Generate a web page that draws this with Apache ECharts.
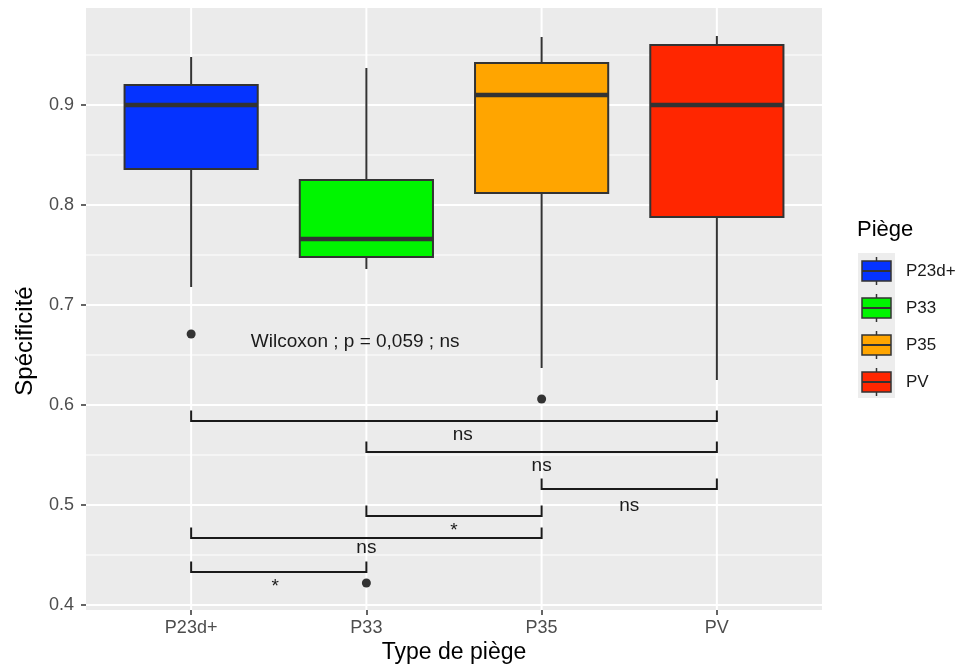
<!DOCTYPE html>
<html><head><meta charset="utf-8">
<script src="https://cdn.jsdelivr.net/npm/echarts@6/dist/echarts.min.js"></script>
<style>html,body{margin:0;padding:0;background:#fff}#c{width:962px;height:671px}</style>
</head><body><div id="c"></div><script>
// ---- data ----
const categories = ['P23d+', 'P33', 'P35', 'PV'];
const whiskerLow  = [0.718, 0.736, 0.637, 0.625];
const q1          = [0.836, 0.748, 0.812, 0.788];
const median      = [0.900, 0.766, 0.910, 0.900];
const q3          = [0.920, 0.825, 0.942, 0.960];
const whiskerHigh = [0.948, 0.937, 0.968, 0.969];
const outlierCategory = [0, 1, 2];
const outlierValue    = [0.671, 0.422, 0.606];
const yTickValues  = [0.4, 0.5, 0.6, 0.7, 0.8, 0.9];
const yMinorValues = [0.45, 0.55, 0.65, 0.75, 0.85, 0.95];
const bracketFrom  = [0, 1, 2, 1, 0, 0];
const bracketTo    = [3, 3, 3, 2, 2, 1];
const bracketY     = [0.584, 0.553, 0.516, 0.489, 0.467, 0.433];
const bracketLabel = ['ns', 'ns', 'ns', '*', 'ns', '*'];
const bracketLabelX = [2.55, 3.0, 3.5, 2.5, 2.0, 1.48];
const bracketLabelY = [0.570, 0.539, 0.499, 0.474, 0.457, 0.418];
const annotationText = 'Wilcoxon ; p = 0,059 ; ns';
const annotationX = 1.936;
const annotationY = 0.663;
const legendTitle = 'Piège';
const xTitle = 'Type de piège';
const yTitle = 'Spécificité';

// ---- styles ----
const fills = ['#0533FF', '#00F500', '#FFA500', '#FF2600'];
const FONT = '"Liberation Sans", Arial, Helvetica, sans-serif';
const DARK = '#333333';
const boxHalf = 0.38;
const bracketTick = 0.0105;

const chart = echarts.init(document.getElementById('c'), null, {renderer: 'canvas'});

function hLine(params, api, lw) {
  const y = api.coord([1, api.value(0)])[1];
  const cs = params.coordSys;
  return {type: 'line', shape: {x1: cs.x, y1: y, x2: cs.x + cs.width, y2: y},
          style: {stroke: '#FFFFFF', lineWidth: lw}, silent: true};
}

const legendGraphics = [];
legendGraphics.push({type: 'text', x: 857, y: 230,
  style: {text: legendTitle, font: '22px ' + FONT, fill: '#000', align: 'left', verticalAlign: 'middle'}});
legendGraphics.push({type: 'rect', shape: {x: 858, y: 253, width: 37, height: 145}, style: {fill: '#EDEDED'}});
categories.forEach((c, i) => {
  const cy = 271 + i * 37;
  legendGraphics.push({type: 'line', shape: {x1: 876.5, y1: cy - 14, x2: 876.5, y2: cy + 14}, style: {stroke: DARK, lineWidth: 1.5}});
  legendGraphics.push({type: 'rect', shape: {x: 862, y: cy - 10, width: 29, height: 20}, style: {fill: fills[i], stroke: DARK, lineWidth: 1.5}});
  legendGraphics.push({type: 'line', shape: {x1: 862, y1: cy, x2: 891, y2: cy}, style: {stroke: DARK, lineWidth: 2}});
  legendGraphics.push({type: 'text', x: 906, y: cy,
    style: {text: c, font: '17px ' + FONT, fill: '#1a1a1a', align: 'left', verticalAlign: 'middle'}});
});
legendGraphics.push({type: 'text', x: 454, y: 653,
  style: {text: xTitle, font: '23px ' + FONT, fill: '#000', align: 'center', verticalAlign: 'middle'}});
legendGraphics.push({type: 'text', x: 25, y: 341, rotation: Math.PI / 2,
  style: {text: yTitle, font: '24px ' + FONT, fill: '#000', align: 'center', verticalAlign: 'middle'}});

const option = {
  animation: false,
  backgroundColor: '#FFFFFF',
  grid: {left: 86, top: 8, right: 140, bottom: 61, show: true, backgroundColor: '#EBEBEB', borderWidth: 0},
  xAxis: {
    type: 'value', min: 0.4, max: 4.6,
    axisLine: {show: false},
    splitLine: {show: false},
    axisTick: {show: true, length: 5, customValues: [1, 2, 3, 4], lineStyle: {color: DARK, width: 1.5}},
    axisLabel: {show: true, customValues: [1, 2, 3, 4], margin: 9, fontSize: 18, color: '#4D4D4D', fontFamily: FONT,
      formatter: v => categories[Math.round(v) - 1] || ''}
  },
  yAxis: {
    type: 'value', min: 0.395, max: 0.997,
    axisLine: {show: false},
    splitLine: {show: false},
    axisTick: {show: true, length: 5, customValues: yTickValues, lineStyle: {color: DARK, width: 1.5}},
    axisLabel: {show: true, customValues: yTickValues, margin: 12, fontSize: 18, color: '#4D4D4D', fontFamily: FONT,
      formatter: v => v.toFixed(1)}
  },
  graphic: legendGraphics,
  series: [
    { // minor horizontal grid lines
      type: 'custom', silent: true, z: 1, clip: true,
      data: yMinorValues.map(v => [v]), encode: {y: 0},
      renderItem: (p, api) => hLine(p, api, 1)
    },
    { // major horizontal grid lines
      type: 'custom', silent: true, z: 1, clip: true,
      data: yTickValues.map(v => [v]), encode: {y: 0},
      renderItem: (p, api) => hLine(p, api, 2)
    },
    { // vertical grid lines
      type: 'custom', silent: true, z: 1, clip: true,
      data: categories.map((c, i) => [i + 1]), encode: {x: 0},
      renderItem: (params, api) => {
        const x = api.coord([api.value(0), 0.5])[0];
        const cs = params.coordSys;
        return {type: 'line', shape: {x1: x, y1: cs.y, x2: x, y2: cs.y + cs.height},
                style: {stroke: '#FFFFFF', lineWidth: 2}};
      }
    },
    { // boxes
      type: 'custom', silent: true, z: 3,
      data: categories.map((c, i) => [i + 1, whiskerLow[i], q1[i], median[i], q3[i], whiskerHigh[i]]),
      encode: {x: 0, y: [1, 2, 3, 4, 5]},
      renderItem: (params, api) => {
        const x = api.value(0);
        const idx = params.dataIndex;
        const py = v => api.coord([x, v])[1];
        const xc = api.coord([x, 0.5])[0];
        const xl = api.coord([x - boxHalf, 0.5])[0];
        const xr = api.coord([x + boxHalf, 0.5])[0];
        const yLow = py(api.value(1)), yQ1 = py(api.value(2)), yMed = py(api.value(3)),
              yQ3 = py(api.value(4)), yHigh = py(api.value(5));
        return {type: 'group', children: [
          {type: 'line', shape: {x1: xc, y1: yHigh, x2: xc, y2: yQ3}, style: {stroke: DARK, lineWidth: 2}},
          {type: 'line', shape: {x1: xc, y1: yQ1, x2: xc, y2: yLow}, style: {stroke: DARK, lineWidth: 2}},
          {type: 'rect', shape: {x: xl, y: yQ3, width: xr - xl, height: yQ1 - yQ3},
           style: {fill: fills[idx], stroke: DARK, lineWidth: 2}},
          {type: 'line', shape: {x1: xl, y1: yMed, x2: xr, y2: yMed}, style: {stroke: DARK, lineWidth: 4.5}}
        ]};
      }
    },
    { // outliers
      type: 'scatter', silent: true, z: 4,
      data: outlierCategory.map((c, k) => [c + 1, outlierValue[k]]),
      symbol: 'circle', symbolSize: 9, itemStyle: {color: DARK, opacity: 1}
    },
    { // significance brackets
      type: 'custom', silent: true, z: 5,
      data: bracketY.map((y, k) => [bracketFrom[k] + 1, bracketTo[k] + 1, y]),
      encode: {x: [0, 1], y: 2},
      renderItem: (params, api) => {
        const a = api.coord([api.value(0), api.value(2)]);
        const b = api.coord([api.value(1), api.value(2)]);
        const t = api.coord([api.value(0), api.value(2) + bracketTick])[1];
        return {type: 'polyline', shape: {points: [[a[0], t], a, b, [b[0], t]]},
                style: {stroke: '#1a1a1a', lineWidth: 2, fill: null}};
      }
    },
    { // bracket labels
      type: 'custom', silent: true, z: 6,
      data: bracketLabel.map((s, k) => [bracketLabelX[k], bracketLabelY[k], k]),
      encode: {x: 0, y: 1},
      renderItem: (params, api) => {
        const p = api.coord([api.value(0), api.value(1)]);
        return {type: 'text', x: p[0], y: p[1],
          style: {text: bracketLabel[api.value(2)], font: '19px ' + FONT, fill: '#1a1a1a', align: 'center', verticalAlign: 'middle'}};
      }
    },
    { // Wilcoxon annotation
      type: 'custom', silent: true, z: 6,
      data: [[annotationX, annotationY]],
      encode: {x: 0, y: 1},
      renderItem: (params, api) => {
        const p = api.coord([api.value(0), api.value(1)]);
        return {type: 'text', x: p[0], y: p[1],
          style: {text: annotationText, font: '19px ' + FONT, fill: '#1a1a1a', align: 'center', verticalAlign: 'middle'}};
      }
    }
  ]
};
chart.setOption(option);
</script></body></html>
